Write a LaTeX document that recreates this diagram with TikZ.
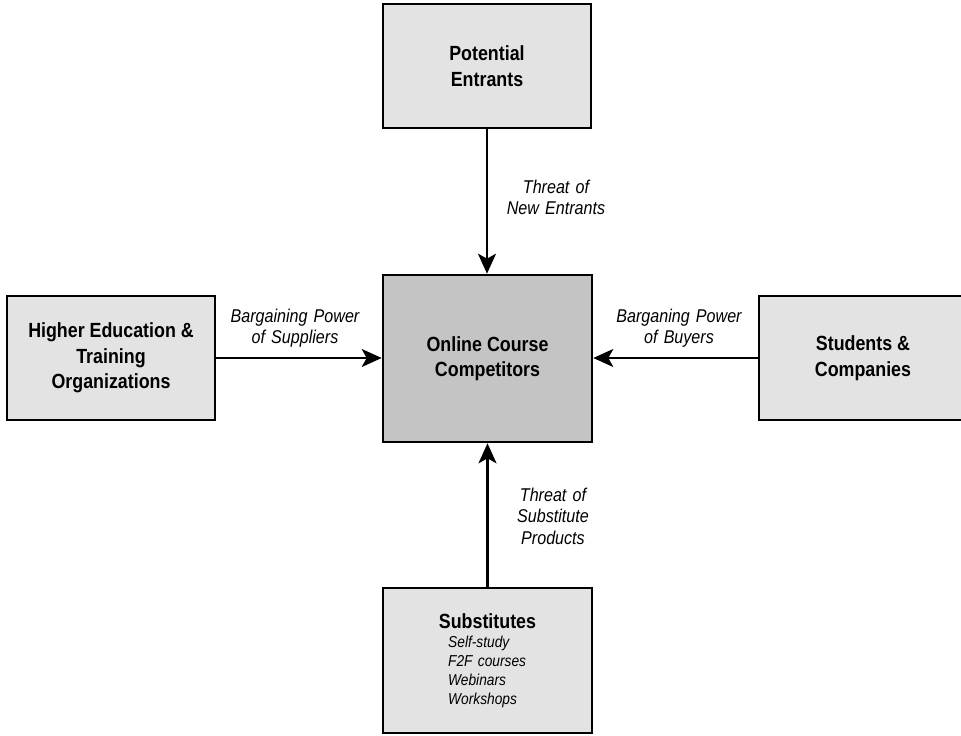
\documentclass[tikz,border=0pt]{standalone}
\usepackage{fontspec}
\setmainfont{Liberation Sans}[FakeStretch=0.87]
\usetikzlibrary{arrows.meta}
\definecolor{boxgray}{HTML}{E3E3E3}
\definecolor{coregray}{HTML}{C4C4C4}
\begin{document}
\begin{tikzpicture}[x=1pt,y=-1pt,
  forcebox/.style={draw=black, fill=boxgray, line width=2.6pt, inner sep=0pt,
    align=center, font=\fontsize{20.5}{25.5}\selectfont\bfseries},
  corebox/.style={forcebox, fill=coregray},
  forcelabel/.style={inner sep=0pt, text width=150pt, align=center,
    font=\fontsize{18.5}{21.5}\selectfont\itshape, anchor=base},
  forcearrow/.style={line width=2.2pt, -{Stealth[length=20pt,width=18pt,inset=5pt]}},
  subtitle/.style={inner sep=0pt, font=\fontsize{20.5}{25.5}\selectfont\bfseries, anchor=base},
  sublist/.style={inner sep=0pt, text width=130pt, align=left,
    font=\fontsize{15.8}{19}\selectfont\itshape, anchor=base west}
]
\useasboundingbox (0,0) rectangle (961,736);

\node[forcebox, minimum width=208pt, minimum height=124pt] (pe) at (487,66) {Potential\\Entrants};
\node[corebox, minimum width=209pt, minimum height=167pt] (core) at (487.5,358.5) {Online Course\\Competitors};
\node[forcebox, minimum width=208pt, minimum height=124pt] (he) at (111,358) {Higher Education \&\\Training\\Organizations};
\node[forcebox, minimum width=208pt, minimum height=124pt] (stud) at (863,358) {Students \&\\Companies};
\node[forcebox, minimum width=209pt, minimum height=145pt] (sub) at (487.5,660.5) {};

\node[subtitle] (subt) at (487.5,628) {Substitutes};
\node[sublist] (subl) at (448,647) {Self-study\\F2F courses\\Webinars\\Workshops};

\draw[forcearrow] (pe.south) -- (pe.south |- core.north);
\draw[forcearrow] (sub.north) -- (sub.north |- core.south);
\draw[forcearrow] (he.east) -- (he.east -| core.west);
\draw[forcearrow] (stud.west) -- (stud.west -| core.east);

\node[forcelabel] (lnew) at (556,193) {Threat of\\New Entrants};
\node[forcelabel] (lsub) at (553,501) {Threat of\\Substitute\\Products};
\node[forcelabel] (lsup) at (295,322) {Bargaining Power\\of Suppliers};
\node[forcelabel] (lbuy) at (679,322) {Barganing Power\\of Buyers};
\end{tikzpicture}
\end{document}
